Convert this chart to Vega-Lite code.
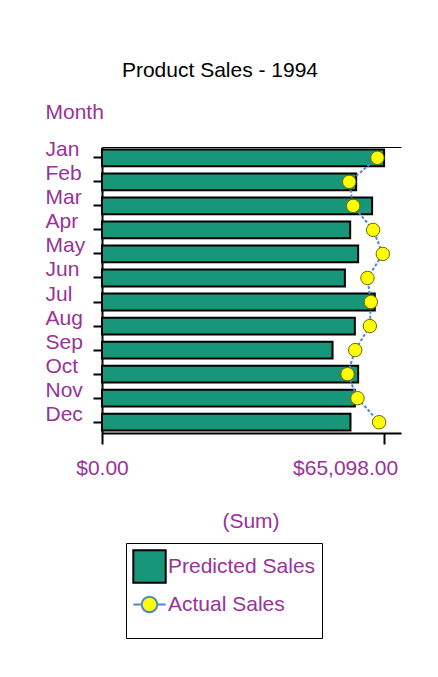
{
  "$schema": "https://vega.github.io/schema/vega-lite/v6.json",
  "width": 299,
  "height": 286,
  "autosize": "none",
  "padding": {"left": 102, "top": 147, "right": 37, "bottom": 244},
  "background": "white",
  "config": {"font": "Liberation Sans", "view": {"stroke": null}},
  "title": {"text": "Product Sales - 1994", "fontSize": 21, "fontWeight": "normal", "color": "black", "anchor": "middle", "frame": "group", "dx": -31.5, "offset": 20},
  "data": {"values": [
    {"month": "Jan", "predicted": 65098, "actual": 63560},
    {"month": "Feb", "predicted": 58650, "actual": 57050},
    {"month": "Mar", "predicted": 62330, "actual": 57970},
    {"month": "Apr", "predicted": 57270, "actual": 62570},
    {"month": "May", "predicted": 59110, "actual": 64800},
    {"month": "Jun", "predicted": 56050, "actual": 61260},
    {"month": "Jul", "predicted": 62950, "actual": 62040},
    {"month": "Aug", "predicted": 58350, "actual": 61810},
    {"month": "Sep", "predicted": 53200, "actual": 58430},
    {"month": "Oct", "predicted": 59110, "actual": 56660},
    {"month": "Nov", "predicted": 58350, "actual": 58960},
    {"month": "Dec", "predicted": 57340, "actual": 63950}
  ]},
  "resolve": {"axis": {"x": "independent"}},
  "encoding": {
    "y": {
      "field": "month", "type": "ordinal", "sort": null,
      "scale": {"paddingInner": 0.3, "paddingOuter": 0.1},
      "axis": {
        "orient": "left", "labelAlign": "left", "labelPadding": 48, "tickSize": 9, "tickWidth": 2, "tickColor": "black",
        "labelBaseline": "alphabetic", "labelOffset": -1.5, "labelColor": "#993399", "labelFontSize": 21,
        "domainColor": "black", "domainWidth": 2, "grid": false,
        "title": "Month", "titleAngle": 0, "titleAlign": "left", "titleBaseline": "alphabetic", "titleX": -57, "titleY": -28.7,
        "titleColor": "#993399", "titleFontSize": 21, "titleFontWeight": "normal"
      }
    }
  },
  "layer": [
    {
      "mark": {"type": "bar"},
      "encoding": {
        "x": {
          "field": "predicted", "type": "quantitative",
          "scale": {"domain": [0, 69000], "nice": false, "zero": true},
          "axis": {
            "orient": "bottom", "values": [0, 65098], "format": "$,.2f", "labelColor": "#993399", "labelFontSize": 21,
            "tickSize": 11, "tickWidth": 2, "tickColor": "black", "domainWidth": 2, "domainColor": "black", "grid": false,
            "labelPadding": 13, "labelFlush": false, "labelOverlap": false, "labelBound": false,
            "labelOffset": {"condition": {"test": "datum.value > 0", "value": -39}, "value": 0},
            "title": "(Sum)", "titleColor": "#993399", "titleFontSize": 21, "titleFontWeight": "normal",
            "titleX": 148.5, "titleY": 94, "titleBaseline": "alphabetic", "titleAnchor": "start", "titleAlign": "center"
          }
        },
        "color": {
          "datum": "Predicted Sales",
          "scale": {"domain": ["Predicted Sales", "Actual Sales"], "range": ["#17967a", "#ffff00"]},
          "legend": {
            "orient": "none", "legendX": 24, "legendY": 396, "direction": "vertical",
            "title": " ", "titleOrient": "bottom", "titleFontSize": 8, "titlePadding": 8,
            "padding": 6, "strokeColor": "black", "rowPadding": 0, "symbolSize": 1050,
            "labelFontSize": 21, "labelColor": "#993399", "labelOffset": 1, "labelBaseline": "middle",
            "symbolType": {"expr": "datum.value === 'Predicted Sales' ? 'square' : 'M-1,0H-0.48M0.48,0H1M-0.48,0A0.48,0.48 0 1,0 0.48,0A0.48,0.48 0 1,0 -0.48,0Z'"},
            "symbolStrokeColor": {"expr": "datum.value === 'Predicted Sales' ? 'black' : '#4f86d0'"},
            "symbolStrokeWidth": 2
          }
        }
      }
    },
    {
      "mark": {"type": "bar", "fill": null, "stroke": "black", "strokeWidth": 2},
      "encoding": {
        "x": {"field": "predicted", "type": "quantitative", "axis": null}
      }
    },
    {
      "mark": {"type": "line", "stroke": "#4f86d0", "strokeWidth": 2, "strokeDash": [3, 2]},
      "encoding": {
        "x": {
          "field": "actual", "type": "quantitative",
          "axis": {"orient": "top", "labels": false, "ticks": false, "title": null, "grid": false, "domainColor": "black", "domainWidth": 1}
        }
      }
    },
    {
      "mark": {"type": "point", "filled": true, "size": 180, "opacity": 1},
      "encoding": {
        "x": {"field": "actual", "type": "quantitative", "axis": null},
        "color": {"datum": "Actual Sales"}
      }
    },
    {
      "mark": {"type": "point", "filled": false, "size": 180, "color": "#6b6b00", "strokeWidth": 1, "opacity": 1},
      "encoding": {
        "x": {"field": "actual", "type": "quantitative", "axis": null}
      }
    }
  ]
}
